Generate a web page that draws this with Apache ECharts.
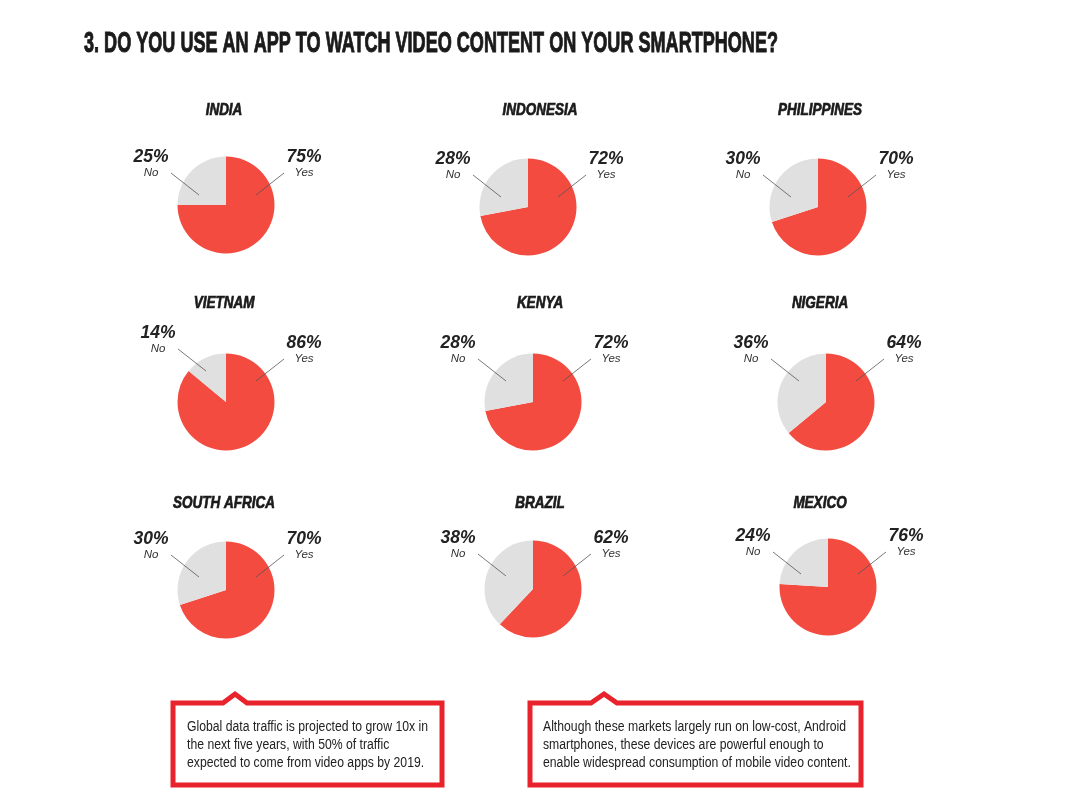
<!DOCTYPE html>
<html>
<head>
<meta charset="utf-8">
<script src="https://cdn.jsdelivr.net/npm/echarts@6/dist/echarts.min.js"></script>
<style>
  html, body { margin: 0; padding: 0; background: #fff; }
  #main { width: 1089px; height: 806px; }
</style>
</head>
<body>
<div id="main"></div>
<script>
// data
var countries = ['INDIA', 'INDONESIA', 'PHILIPPINES', 'VIETNAM', 'KENYA', 'NIGERIA', 'SOUTH AFRICA', 'BRAZIL', 'MEXICO'];
var yesValues = [75, 72, 70, 86, 72, 64, 70, 62, 76];
var noValues = [25, 28, 30, 14, 28, 36, 30, 38, 24];
var answers = ['Yes', 'No'];
var titleText = '3. DO YOU USE AN APP TO WATCH VIDEO CONTENT ON YOUR SMARTPHONE?';
var noteLeft = 'Global data traffic is projected to grow 10x in\nthe next five years, with 50% of traffic\nexpected to come from video apps by 2019.';
var noteRight = 'Although these markets largely run on low-cost, Android\nsmartphones, these devices are powerful enough to\nenable widespread consumption of mobile video content.';

// layout
var RED = '#f34b40';
var GREY = '#e1e0e0';
var BORDER = '#e8232c';
var FONT = '"Liberation Sans", Arial, sans-serif';
var pieCenters = [
  [226, 205], [528, 207], [818, 207],
  [226, 402], [533, 402], [826, 402],
  [226, 590], [533, 589], [828, 587]
];
var titleX = [224, 540, 820];
var titleY = [110, 303, 503];
var labelRowY = [-57, -68, -60];  // top of the percentage label, from pie centre
var radius = 48.5;

var measureCtx = document.createElement('canvas').getContext('2d');
function textWidth(str, font) {
  measureCtx.font = font;
  return measureCtx.measureText(str).width;
}

var myChart = echarts.init(document.getElementById('main'));

// where the label of slice (i, dataIndex) goes and its leader line
function labelGeom(i, dataIndex) {
  var c = pieCenters[i];
  var row = Math.floor(i / 3);
  var isNo = dataIndex === 1;
  var side = isNo ? -1 : 1;
  var x = c[0] + side * (isNo ? 75 : 78);
  var y = c[1] + labelRowY[row];
  if (isNo && noValues[i] < 20) {   // small slice: label sits higher
    x += 7;
    y -= 10;
  }
  return {
    x: x,
    y: y,
    outer: [x - side * 20, y + 25],
    inner: [x - side * 48, y + 47]
  };
}

function labelLayout(params) {
  var g = labelGeom(params.seriesIndex, params.dataIndex);
  return { x: g.x, y: g.y, align: 'center', verticalAlign: 'top' };
}

var series = countries.map(function (name, i) {
  return {
    type: 'pie',
    name: name,
    center: pieCenters[i],
    radius: radius,
    startAngle: 90,
    clockwise: true,
    silent: true,
    avoidLabelOverlap: false,
    animation: false,
    data: [
      { name: answers[0], value: yesValues[i], itemStyle: { color: RED } },
      { name: answers[1], value: noValues[i], itemStyle: { color: GREY } }
    ],
    label: {
      show: true,
      position: 'outside',
      formatter: function (p) {
        return '{p|' + p.value + '%}\n{n|' + p.name + '}';
      },
      rich: {
        p: { fontFamily: FONT, fontWeight: 'bold', fontStyle: 'italic', fontSize: 17.5, color: '#222', lineHeight: 18 },
        n: { fontFamily: FONT, fontStyle: 'italic', fontSize: 11.5, color: '#333', lineHeight: 14 }
      }
    },
    labelLine: { show: false },
    labelLayout: labelLayout
  };
});

// titles, squeezed to the condensed look of the original
var titleFont = 'bold 30px ' + FONT;
var titleScale = 694 / textWidth(titleText, titleFont);
var countryFont = 'italic bold 16.5px ' + FONT;
var countryScale = 75 / textWidth('INDONESIA', countryFont);
var noteFont = '14px ' + FONT;
var noteScale = 241 / textWidth('Global data traffic is projected to grow 10x in', noteFont);

var graphics = [{
  type: 'text',
  x: 84,
  y: 44,
  scaleX: titleScale,
  style: {
    text: titleText,
    font: titleFont,
    fill: '#1a1a1a',
    stroke: '#1a1a1a',
    lineWidth: 1,
    textAlign: 'left',
    textVerticalAlign: 'middle'
  }
}];

countries.forEach(function (name, i) {
  graphics.push({
    type: 'text',
    x: titleX[i % 3],
    y: titleY[Math.floor(i / 3)],
    scaleX: countryScale,
    style: {
      text: name,
      font: countryFont,
      fill: '#1a1a1a',
      stroke: '#1a1a1a',
      lineWidth: 0.7,
      textAlign: 'center',
      textVerticalAlign: 'middle'
    }
  });
  // leader lines, drawn above the slices
  [0, 1].forEach(function (d) {
    var g = labelGeom(i, d);
    graphics.push({
      type: 'line',
      z: 10,
      shape: { x1: g.outer[0], y1: g.outer[1], x2: g.inner[0], y2: g.inner[1] },
      style: { stroke: '#555', lineWidth: 0.8 }
    });
  });
});

// callout boxes
graphics.push({
  type: 'polygon',
  shape: { points: [[173, 703], [223, 703], [235, 694], [247, 703], [442, 703], [442, 785], [173, 785]] },
  style: { fill: '#fff', stroke: BORDER, lineWidth: 5, lineJoin: 'miter' }
});
graphics.push({
  type: 'polygon',
  shape: { points: [[530, 703], [591, 703], [604, 694], [617, 703], [861, 703], [861, 785], [530, 785]] },
  style: { fill: '#fff', stroke: BORDER, lineWidth: 5, lineJoin: 'miter' }
});
graphics.push({
  type: 'text',
  x: 187,
  y: 718,
  scaleX: noteScale,
  style: { text: noteLeft, font: noteFont, fill: '#222', lineHeight: 18, textAlign: 'left', textVerticalAlign: 'top' }
});
graphics.push({
  type: 'text',
  x: 543,
  y: 718,
  scaleX: noteScale,
  style: { text: noteRight, font: noteFont, fill: '#222', lineHeight: 18, textAlign: 'left', textVerticalAlign: 'top' }
});

myChart.setOption({
  backgroundColor: '#fff',
  animation: false,
  series: series,
  graphic: graphics
});
</script>
</body>
</html>
